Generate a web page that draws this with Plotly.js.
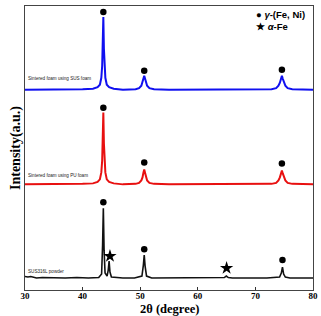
<!DOCTYPE html>
<html>
<head>
<meta charset="utf-8">
<script src="https://cdn.plot.ly/plotly-3.0.1.min.js"></script>
<style>
  html, body { margin: 0; padding: 0; background: #fff; }
  #chart { width: 321px; height: 316px; }
</style>
</head>
<body>
<div id="chart"></div>
<script>
// XRD patterns (2θ in degrees, intensity in arbitrary units, curves stacked with offsets)

// Sintered foam using SUS foam (top, blue)
const susFoamTheta = [30, 35, 40, 41.8, 42.6, 43.0, 43.25, 43.4, 43.5, 43.6, 43.7, 43.8, 43.95, 44.2, 44.6, 45.4, 47, 49.2, 49.8, 50.2, 50.4, 50.55, 50.7, 50.85, 51.0, 51.2, 51.6, 52.4, 55, 60, 65, 70, 72.8, 73.6, 74.0, 74.25, 74.45, 74.6, 74.75, 74.95, 75.2, 75.6, 76.4, 80];
const susFoamIntensity = [201, 201, 201.5, 202, 203.5, 206, 213, 225, 242, 274, 242, 225, 213, 206, 203.5, 202, 201, 201.5, 202.5, 205, 208, 212, 215, 212, 208, 205, 202.5, 201.5, 201, 201, 201, 201, 201.5, 202.5, 205, 208, 212, 215, 212, 208, 205, 202.5, 201.5, 201];

// Sintered foam using PU foam (middle, red)
const puFoamTheta = [30, 35, 40, 41.8, 42.6, 43.0, 43.25, 43.4, 43.5, 43.6, 43.7, 43.8, 43.95, 44.2, 44.6, 45.4, 47, 49.2, 49.8, 50.2, 50.4, 50.55, 50.7, 50.85, 51.0, 51.2, 51.6, 52.4, 55, 60, 65, 70, 72.8, 73.6, 74.0, 74.25, 74.45, 74.6, 74.75, 74.95, 75.2, 75.6, 76.4, 80];
const puFoamIntensity = [106, 106, 106.5, 107, 108.5, 111, 118, 130, 147, 178, 147, 130, 118, 111, 108.5, 107, 106, 106.5, 107.5, 110, 113, 117.5, 121, 117.5, 113, 110, 107.5, 106.5, 106, 106, 106, 106, 106.5, 107.5, 110, 113, 117, 120, 117, 113, 110, 107.5, 106.5, 106];

// SUS316L powder (bottom, black)
const powderTheta = [30, 30.5, 31, 31.5, 32, 33, 35, 37, 39, 41, 42.8, 43.3, 43.47, 43.6, 43.73, 43.9, 44.25, 44.45, 44.6, 44.75, 45.0, 45.6, 47, 49, 50.3, 50.55, 50.7, 50.85, 51.1, 52, 55, 58, 61, 63.5, 64.6, 64.95, 65.3, 66, 69, 72, 74.2, 74.5, 74.7, 74.9, 75.2, 76, 78, 80];
const powderIntensity = [13.5, 13, 13.5, 12.5, 12, 12.5, 12, 12, 12.5, 12, 12.5, 16, 45, 82, 40, 17, 14, 20, 29, 18, 13, 12.5, 12, 12, 14, 25, 35, 24, 14, 12, 12, 12, 12, 12, 12.5, 14, 12.5, 12, 12, 12, 13, 17, 23, 16, 13, 12, 12, 12];

// Phase markers above the peaks
const gammaTheta = [43.6, 50.7, 74.6, 43.6, 50.7, 74.6, 43.6, 50.7, 74.7];
const gammaIntensity = [279, 220, 221, 183, 128, 127, 88, 41, 30];
const alphaTheta = [44.75, 65.0];
const alphaIntensity = [34, 22];

// Pattern labels and legend text
const seriesLabels = ['Sintered foam using SUS foam', 'Sintered foam using PU foam', 'SUS316L powder'];
const labelIntensity = [212, 115, 19];
const gammaLegend = '● <i>γ</i>-(Fe, Ni)';
const alphaLegend = '★ <i>α</i>-Fe';
const xTicks = [30, 40, 50, 60, 70, 80];

const serif = 'Liberation Serif, Times New Roman, serif';
const sans = 'Liberation Sans, Arial, sans-serif';

const traces = [
  {x: susFoamTheta, y: susFoamIntensity, mode: 'lines', line: {color: '#1010f0', width: 2}, hoverinfo: 'skip'},
  {x: puFoamTheta, y: puFoamIntensity, mode: 'lines', line: {color: '#e81010', width: 2}, hoverinfo: 'skip'},
  {x: powderTheta, y: powderIntensity, mode: 'lines', line: {color: '#111', width: 1.6}, hoverinfo: 'skip'},
  {x: gammaTheta, y: gammaIntensity, mode: 'markers', marker: {symbol: 'circle', size: 6.5, color: '#000'}, hoverinfo: 'skip'},
  {x: alphaTheta, y: alphaIntensity, mode: 'markers', marker: {symbol: 'star', size: 10, color: '#000'}, hoverinfo: 'skip'}
];

const annotations = seriesLabels.map((t, i) => ({
  text: t, xref: 'paper', yref: 'y', x: 0.004, y: labelIntensity[i],
  xanchor: 'left', yanchor: 'middle', showarrow: false,
  font: {family: sans, size: 4.6, color: '#222'}
}));
annotations.push(
  {text: gammaLegend, xref: 'paper', yref: 'paper', x: 0.795, y: 0.998, xanchor: 'left', yanchor: 'top', showarrow: false,
   font: {family: sans, size: 9.5, color: '#000', weight: 'bold'}},
  {text: alphaLegend, xref: 'paper', yref: 'paper', x: 0.795, y: 0.955, xanchor: 'left', yanchor: 'top', showarrow: false,
   font: {family: sans, size: 9.5, color: '#000', weight: 'bold'}},
  // x-axis title, placed under the tick labels
  {text: '2θ (degree)', xref: 'paper', yref: 'paper', x: 0.5, y: 0, yshift: -26, xanchor: 'center', yanchor: 'bottom',
   borderpad: 0, borderwidth: 0, showarrow: false,
   font: {family: serif, size: 12.5, color: '#000', weight: 'bold'}}
);

const layout = {
  width: 321, height: 316,
  margin: {l: 25, r: 8, t: 6, b: 26},
  paper_bgcolor: '#fff', plot_bgcolor: '#fff',
  showlegend: false,
  xaxis: {
    range: [30, 80], tickvals: xTicks, ticktext: xTicks.map(String),
    ticks: 'inside', ticklen: 3, tickwidth: 1, tickcolor: '#333',
    ticklabelstandoff: -3,
    showline: true, linecolor: '#444', linewidth: 1, mirror: true,
    showgrid: false, zeroline: false,
    tickfont: {family: serif, size: 9, color: '#000', weight: 'bold'}
  },
  yaxis: {
    range: [0, 285], showticklabels: false, ticks: '',
    showline: true, linecolor: '#444', linewidth: 1, mirror: true,
    showgrid: false, zeroline: false,
    title: {text: 'Intensity(a.u.)', font: {family: serif, size: 14, color: '#000', weight: 'bold'}, standoff: 0}
  },
  annotations: annotations
};

Plotly.newPlot('chart', traces, layout, {staticPlot: true, displayModeBar: false});
</script>
</body>
</html>
